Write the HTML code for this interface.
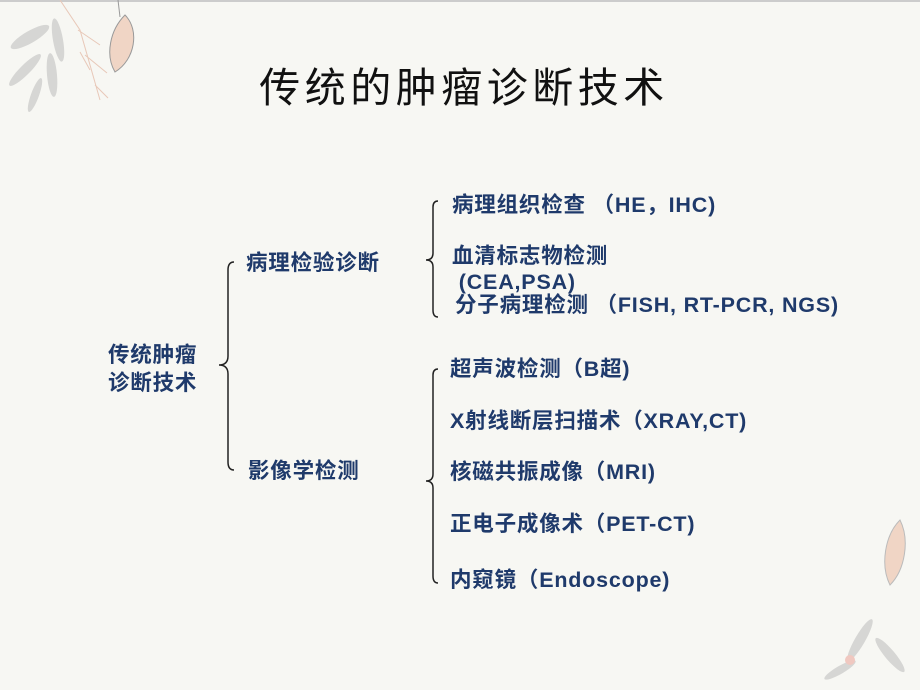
<!DOCTYPE html>
<html><head><meta charset="utf-8"><style>
body{margin:0;width:920px;height:690px;background:#f7f7f3;overflow:hidden;position:relative;font-family:"Liberation Sans","Noto Sans CJK SC",sans-serif}
.t{position:absolute;white-space:nowrap;color:#1f3a6b;font-weight:bold;font-size:21.5px;line-height:24px;letter-spacing:0.8px}
</style></head><body>
<svg width="920" height="690" style="position:absolute;left:0;top:0">
<line x1="0" y1="1" x2="920" y2="1" stroke="#ccc" stroke-width="2"/>
<g fill="#d6d6d4"><ellipse cx="30" cy="37" rx="6" ry="22" transform="rotate(60 30 37)"/><ellipse cx="58" cy="40" rx="5" ry="22" transform="rotate(-10 58 40)"/><ellipse cx="25" cy="70" rx="5" ry="22" transform="rotate(45 25 70)"/><ellipse cx="52" cy="75" rx="5" ry="22" transform="rotate(-5 52 75)"/><ellipse cx="35" cy="95" rx="4" ry="18" transform="rotate(20 35 95)"/></g>
<g stroke="#e8c8b8" fill="none"><path d="M60 0 L80 30 L100 100 M78 30 L100 45 M85 55 L107 73 M90 70 L80 52 M95 85 L108 98"/></g>
<path d="M125 15 C140 30 135 60 115 72 C105 55 110 30 125 15Z" fill="#f0d5c5" stroke="#999"/>
<line x1="118" y1="0" x2="120" y2="17" stroke="#999"/>
<g fill="#d6d6d4"><ellipse cx="860" cy="640" rx="5" ry="24" transform="rotate(30 860 640)"/><ellipse cx="890" cy="655" rx="5" ry="22" transform="rotate(-40 890 655)"/><ellipse cx="840" cy="670" rx="4" ry="18" transform="rotate(60 840 670)"/></g>
<path d="M900 520 C910 540 905 570 890 585 C880 565 885 535 900 520Z" fill="#f0d5c5" stroke="#bbb"/>
<circle cx="850" cy="660" r="5" fill="#f0c8c0"/>
<g stroke="#222" stroke-width="1.5" fill="none">
<path d="M234 262 Q228 262 228 270 L228 356 Q228 365 219 365 Q228 365 228 374 L228 462 Q228 470 234 470"/>
<path d="M438 201 Q433 201 433 207 L433 253 Q433 260 426 260 Q433 260 433 267 L433 310 Q433 317 438 317"/>
<path d="M438 369 Q433 369 433 375 L433 474 Q433 481 426 481 Q433 481 433 488 L433 576 Q433 583 438 583"/>
</g>
</svg>
<div class="t" style="left:0;width:920px;text-align:center;top:64px;font-size:41px;line-height:48px;font-weight:normal;color:#111;letter-spacing:4.5px;padding-left:4px">传统的肿瘤诊断技术</div>
<div class="t" style="left:108px;top:341px;line-height:28px">传统肿瘤<br>诊断技术</div>
<div class="t" style="left:246px;top:251px">病理检验诊断</div>
<div class="t" style="left:248px;top:459px">影像学检测</div>
<div class="t" style="left:452px;top:193px">病理组织检查 （HE，IHC)</div>
<div class="t" style="left:452px;top:243px;line-height:26px">血清标志物检测<br>&nbsp;(CEA,PSA)</div>
<div class="t" style="left:455px;top:293px">分子病理检测 （FISH, RT-PCR, NGS)</div>
<div class="t" style="left:450px;top:357px">超声波检测（B超)</div>
<div class="t" style="left:450px;top:409px">X射线断层扫描术（XRAY,CT)</div>
<div class="t" style="left:450px;top:460px">核磁共振成像（MRI)</div>
<div class="t" style="left:450px;top:512px">正电子成像术（PET-CT)</div>
<div class="t" style="left:450px;top:568px">内窥镜（Endoscope)</div>
</body></html>
